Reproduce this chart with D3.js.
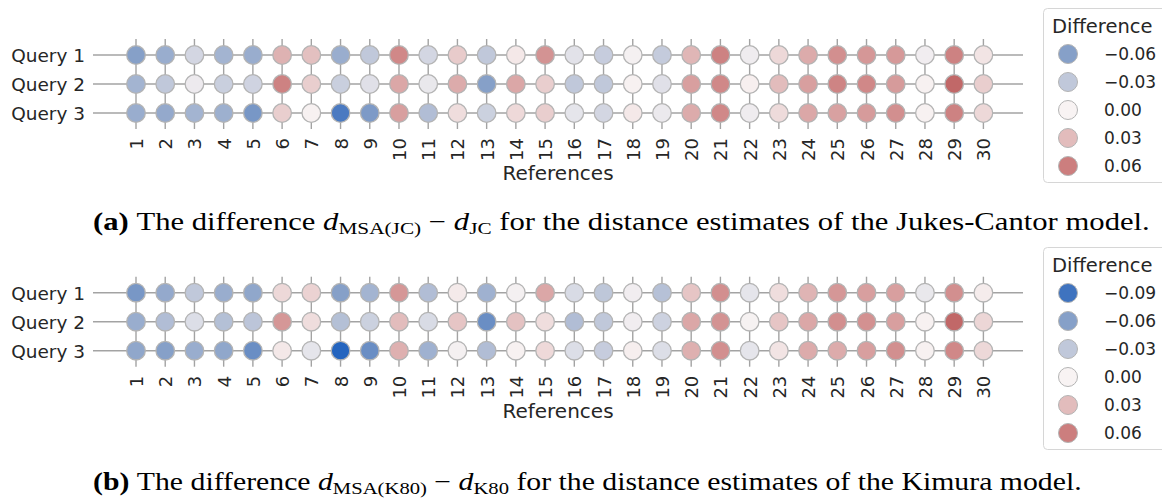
<!DOCTYPE html>
<html>
<head>
<meta charset="utf-8">
<script src="https://cdn.jsdelivr.net/npm/d3@7"></script>
<style>
  html, body { margin: 0; padding: 0; background: #ffffff; }
  svg { display: block; }
</style>
</head>
<body>
<svg id="chart" width="1162" height="499"></svg>
<script>
// ---------- data ----------
const references = ["1","2","3","4","5","6","7","8","9","10","11","12","13","14","15","16","17","18","19","20","21","22","23","24","25","26","27","28","29","30"];
const queries = ["Query 1", "Query 2", "Query 3"];

// (a) Jukes-Cantor: d_MSA(JC) - d_JC
const jcQuery1 = [-0.060,-0.050,-0.020,-0.045,-0.050,0.035,0.028,-0.050,-0.030,0.055,-0.020,0.022,-0.030,0.006,0.050,-0.012,-0.027,-0.002,-0.028,0.033,0.058,-0.005,0.015,0.038,0.052,0.048,0.047,-0.004,0.058,0.008];
const jcQuery2 = [-0.045,-0.030,-0.006,-0.025,-0.022,0.058,0.020,-0.025,-0.013,0.040,-0.008,0.038,-0.060,0.040,0.020,-0.030,-0.030,0.001,-0.013,0.044,0.055,0.002,0.030,0.044,0.057,0.055,0.046,0.001,0.075,0.020];
const jcQuery3 = [-0.050,-0.053,-0.045,-0.048,-0.066,0.020,0.001,-0.085,-0.064,0.044,-0.038,0.012,-0.024,0.014,0.020,-0.010,-0.020,0.006,-0.007,0.038,0.055,-0.005,0.013,0.040,0.043,0.046,0.052,0.001,0.058,0.015];

// (b) Kimura: d_MSA(K80) - d_K80
const k80Query1 = [-0.066,-0.053,-0.030,-0.050,-0.055,0.015,0.018,-0.060,-0.045,0.048,-0.038,0.005,-0.047,-0.002,0.040,-0.017,-0.031,-0.004,-0.035,0.025,0.052,-0.010,0.012,0.034,0.048,0.044,0.044,-0.008,0.052,0.004];
const k80Query2 = [-0.050,-0.038,-0.015,-0.036,-0.032,0.048,0.012,-0.036,-0.024,0.030,-0.017,0.025,-0.072,0.027,0.012,-0.038,-0.030,-0.004,-0.023,0.040,0.050,-0.001,0.025,0.040,0.052,0.051,0.044,0.001,0.075,0.016];
const k80Query3 = [-0.055,-0.060,-0.050,-0.055,-0.072,0.006,-0.010,-0.097,-0.072,0.036,-0.047,-0.002,-0.038,0.001,0.014,-0.015,-0.027,0.003,-0.015,0.036,0.052,-0.010,0.008,0.038,0.038,0.044,0.052,0.001,0.055,0.015];

const legendValuesA = [-0.06, -0.03, 0.00, 0.03, 0.06];
const legendValuesB = [-0.09, -0.06, -0.03, 0.00, 0.03, 0.06];

// ---------- scales ----------
const color = d3.scaleLinear()
  .domain([-0.10, -0.09, -0.06, -0.03, 0, 0.03, 0.06, 0.09])
  .range(["#1a5fbf", "#3f73bf", "#86a0c8", "#c0c8da", "#f8f3f3", "#e2bcbc", "#cc7e7e", "#b65252"])
  .interpolate(d3.interpolateRgb)
  .clamp(true);

const x = d3.scalePoint().domain(references).range([136, 983.4]);
const fmt = v => (v < 0 ? "\u2212" : "") + Math.abs(v).toFixed(2);

const svg = d3.select("#chart");
const sans = "DejaVu Sans, Verdana, sans-serif";
const serif = "'Liberation Serif', 'Times New Roman', serif";

function drawPanel(top, series, legendValues, legendTop) {
  const y = d3.scalePoint().domain(queries).range([top, top + 58]);
  const g = svg.append("g");

  // grid lines
  g.selectAll("line.h").data(queries).join("line")
    .attr("x1", 93).attr("x2", 1023)
    .attr("y1", d => y(d)).attr("y2", d => y(d))
    .attr("stroke", "#a3a3a3").attr("stroke-width", 1.4);
  g.selectAll("line.v").data(references).join("line")
    .attr("x1", d => x(d)).attr("x2", d => x(d))
    .attr("y1", top - 16).attr("y2", top + 58 + 16)
    .attr("stroke", "#a3a3a3").attr("stroke-width", 1.4);

  // dots
  queries.forEach((q, qi) => {
    g.selectAll(null).data(series[qi]).join("circle")
      .attr("cx", (d, i) => x(references[i]))
      .attr("cy", y(q))
      .attr("r", 9.3)
      .attr("fill", d => color(d))
      .attr("stroke", "#b4b4b4")
      .attr("stroke-width", 1.3);
  });

  // y axis labels
  const yAxis = g.append("g").attr("transform", "translate(85,0)")
    .call(d3.axisLeft(y).tickSize(0).tickPadding(0));
  yAxis.select(".domain").remove();
  yAxis.selectAll("text")
    .attr("font-family", sans).attr("font-size", 18.5).attr("fill", "#262626")
    .attr("dy", "0.35em");

  // x axis labels
  const xAxis = g.append("g").attr("transform", `translate(0,${top + 83})`)
    .call(d3.axisBottom(x).tickSize(0).tickPadding(0));
  xAxis.select(".domain").remove();
  xAxis.selectAll("text")
    .attr("font-family", sans).attr("font-size", 18).attr("fill", "#262626")
    .attr("transform", "rotate(-90)")
    .attr("text-anchor", "end")
    .attr("x", 0).attr("y", 0).attr("dy", "0.36em");

  g.append("text")
    .attr("x", 558).attr("y", top + 125)
    .attr("text-anchor", "middle")
    .attr("font-family", sans).attr("font-size", 20).attr("fill", "#262626")
    .text("References");

  // legend
  const lg = svg.append("g");
  const rowH = 28;
  const boxH = 42 + legendValues.length * rowH - 8;
  lg.append("rect")
    .attr("x", 1043.5).attr("y", legendTop + 0.5)
    .attr("width", 140).attr("height", boxH)
    .attr("rx", 4)
    .attr("fill", "#ffffff").attr("stroke", "#d6d6d6").attr("stroke-width", 1);
  lg.append("text")
    .attr("x", 1052).attr("y", legendTop + 25)
    .attr("font-family", sans).attr("font-size", 19.5).attr("fill", "#262626")
    .text("Difference");
  const entries = lg.selectAll("g.e").data(legendValues).join("g")
    .attr("transform", (d, i) => `translate(0,${legendTop + 46 + i * rowH})`);
  entries.append("circle")
    .attr("cx", 1068).attr("cy", 0).attr("r", 9.5)
    .attr("fill", d => color(d))
    .attr("stroke", "#b4b4b4").attr("stroke-width", 1);
  entries.append("text")
    .attr("x", 1104).attr("y", 0).attr("dy", "0.36em")
    .attr("font-family", sans).attr("font-size", 17).attr("fill", "#262626")
    .text(d => fmt(d));
}

drawPanel(55, [jcQuery1, jcQuery2, jcQuery3], legendValuesA, 8);
drawPanel(292.7, [k80Query1, k80Query2, k80Query3], legendValuesB, 247);

// captions
function caption(baseline, label, sub1, sub2, rest, targetW) {
  const t = svg.append("text")
    .attr("x", 0).attr("y", 0)
    .attr("font-family", serif).attr("font-size", 24.5).attr("fill", "#000");
  t.append("tspan").attr("font-weight", "bold").text(label);
  t.append("tspan").text("\u00a0The difference ");
  t.append("tspan").attr("font-style", "italic").text("d");
  t.append("tspan").attr("font-size", 17).attr("dy", 4).text(sub1);
  t.append("tspan").attr("dy", -4).text("\u00a0\u2212\u00a0");
  t.append("tspan").attr("font-style", "italic").text("d");
  t.append("tspan").attr("font-size", 17).attr("dy", 4).text(sub2);
  t.append("tspan").attr("dy", -4).text(rest);
  const w = t.node().getBBox().width;
  t.attr("transform", `translate(93,${baseline}) scale(${targetW / w},1)`);
}
caption(230, "(a)", "MSA(JC)", "JC", " for the distance estimates of the Jukes-Cantor model.", 1057);
caption(490, "(b)", "MSA(K80)", "K80", " for the distance estimates of the Kimura model.", 989);
</script>
</body>
</html>
